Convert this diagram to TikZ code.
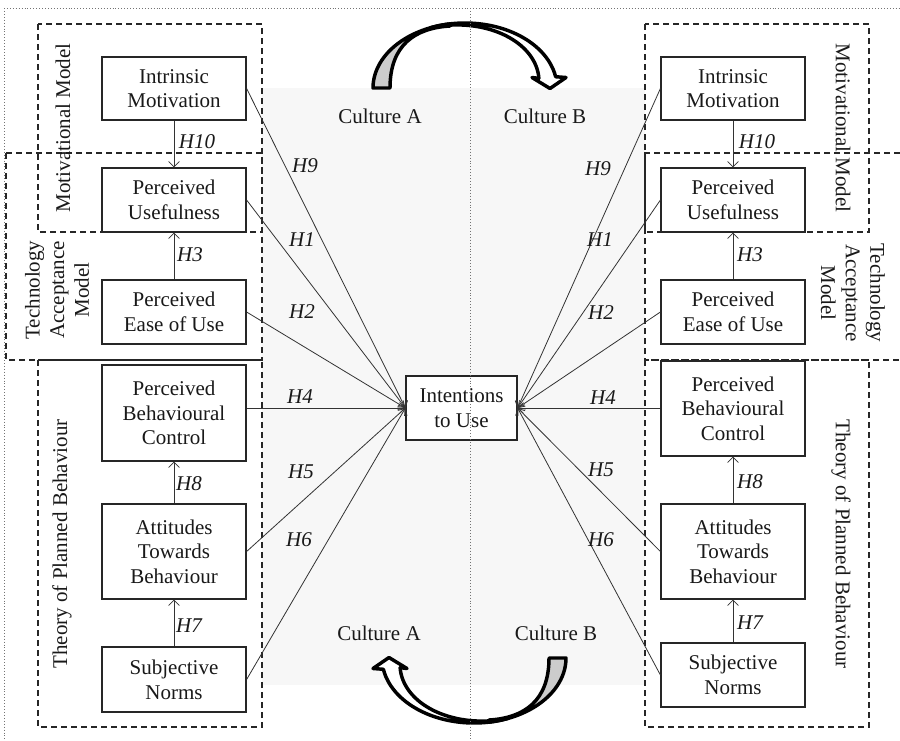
\documentclass[tikz,border=0pt]{standalone}
\usepackage{fontspec}
\setmainfont{Liberation Serif}
\usetikzlibrary{arrows.meta}
\newcommand{\cultarrow}{%
  \filldraw[carrow, fill=black!20]
    plot[domain=180:99, samples=50] ({465+92*cos(\x)},{88-65*sin(\x)})
    -- (450,26) .. controls (415,28) and (390,45) .. (390,88) -- cycle;
  \filldraw[carrow, fill=white]
    plot[domain=112:10, samples=60] ({465+92*cos(\x)},{88-65*sin(\x)})
    -- (566,77.5) -- (550,88.5) -- (532,77.5) -- (539,78.4)
    -- plot[domain=10:112, samples=60] ({465+(75+17*(\x-10)/102)*cos(\x)},{88-(55+10*(\x-10)/102)*sin(\x)})
    -- cycle;
}
\begin{document}
\begin{tikzpicture}[x=0.75pt,y=-0.75pt,
  every node/.style={font=\fontsize{15.75pt}{18.5pt}\selectfont, text=black!90},
  box/.style={draw=black!85, line width=0.9pt, minimum width=108pt, align=center, inner sep=0pt, fill=white},
  frame/.style={draw=black!85, line width=0.9pt, dash pattern=on 4.5pt off 3pt},
  dotln/.style={draw=black!55, line width=0.7pt, dash pattern=on 0.7pt off 1.5pt},
  conn/.style={draw=black!80, line width=0.6pt, -{Straight Barb[length=4pt,width=8pt]}},
  hyp/.style={font=\fontsize{15.75pt}{18.5pt}\selectfont\itshape},
  grp/.style={align=center},
  carrow/.style={line width=2.6pt, line join=round, draw=black}
]
\useasboundingbox (0,0) rectangle (900,740);
\fill[black!3] (262,88) rectangle (645,685);

% dashed frames
\draw[frame] (38,24) rectangle (262,232);
\draw[frame] (6,153) rectangle (262,360);
\draw[frame] (38,360) rectangle (262,727);
\draw[frame] (645,24) rectangle (869,232);
\draw[frame] (900,153) -- (645,153) -- (645,360) -- (900,360);
\draw[frame] (645,360) rectangle (869,727);

% group labels
\node[rotate=90, grp] (mmL) at (63,128) {Motivational Model};
\node[rotate=90, grp] (tamL) at (57,290) {Technology\\Acceptance\\Model};
\node[rotate=90, grp] (tpbL) at (62,544) {Theory of Planned Behaviour};
\node[rotate=-90, grp] (mmR) at (843,128) {Motivational Model};
\node[rotate=-90, grp] (tamR) at (853,293) {Technology\\Acceptance\\Model};
\node[rotate=-90, grp] (tpbR) at (841,544) {Theory of Planned Behaviour};

% boxes left
\node[box, minimum height=47.25pt] (imL) at (174,88.5) {Intrinsic\\Motivation};
\node[box, minimum height=48pt] (puL) at (174,200) {Perceived\\Usefulness};
\node[box, minimum height=48pt] (peL) at (174,312) {Perceived\\Ease of Use};
\node[box, minimum height=72pt] (pbL) at (174,413) {Perceived\\Behavioural\\Control};
\node[box, minimum height=71.25pt] (atL) at (174,551.5) {Attitudes\\Towards\\Behaviour};
\node[box, minimum height=48.75pt] (snL) at (174,679.5) {Subjective\\Norms};

% boxes right
\node[box, minimum height=47.25pt] (imR) at (733,88.5) {Intrinsic\\Motivation};
\node[box, minimum height=48pt] (puR) at (733,200) {Perceived\\Usefulness};
\node[box, minimum height=48pt] (peR) at (733,312) {Perceived\\Ease of Use};
\node[box, minimum height=71.25pt] (pbR) at (733,408.5) {Perceived\\Behavioural\\Control};
\node[box, minimum height=71.25pt] (atR) at (733,551.5) {Attitudes\\Towards\\Behaviour};
\node[box, minimum height=48pt] (snR) at (733,675) {Subjective\\Norms};

% centre
\node[box, minimum width=83.25pt, minimum height=48pt] (iu) at (461.5,408) {Intentions\\to Use};

% vertical connectors
\draw[conn] (imL.south) -- (puL.north);
\draw[conn] (peL.north) -- (puL.south);
\draw[conn] (atL.north) -- (pbL.south);
\draw[conn] (snL.north) -- (atL.south);
\draw[conn] (imR.south) -- (puR.north);
\draw[conn] (peR.north) -- (puR.south);
\draw[conn] (atR.north) -- (pbR.south);
\draw[conn] (snR.north) -- (atR.south);

% diagonal connectors
\draw[conn] (imL.east) -- (iu.west);
\draw[conn] (puL.east) -- (iu.west);
\draw[conn] (peL.east) -- (iu.west);
\draw[conn] (pbL.east |- iu.west) -- (iu.west);
\draw[conn] (atL.east) -- (iu.west);
\draw[conn] (snL.east) -- (iu.west);
\draw[conn] (imR.west) -- (iu.east);
\draw[conn] (puR.west) -- (iu.east);
\draw[conn] (peR.west) -- (iu.east);
\draw[conn] (pbR.west |- iu.east) -- (iu.east);
\draw[conn] (atR.west) -- (iu.east);
\draw[conn] (snR.west) -- (iu.east);

% hypothesis labels
\node[hyp] (h10L) at (197,142) {H10};
\node[hyp] (h3L) at (190,255) {H3};
\node[hyp] (h8L) at (189,484) {H8};
\node[hyp] (h7L) at (189,626) {H7};
\node[hyp] (h10R) at (757,142) {H10};
\node[hyp] (h3R) at (750,255) {H3};
\node[hyp] (h8R) at (750,482) {H8};
\node[hyp] (h7R) at (750,623) {H7};
\node[hyp] (h9L) at (305,166) {H9};
\node[hyp] (h1L) at (302,240) {H1};
\node[hyp] (h2L) at (302,312) {H2};
\node[hyp] (h4L) at (300,397) {H4};
\node[hyp] (h5L) at (301,472) {H5};
\node[hyp] (h6L) at (299,540) {H6};
\node[hyp] (h9R) at (598,169) {H9};
\node[hyp] (h1R) at (600,240) {H1};
\node[hyp] (h2R) at (601,313) {H2};
\node[hyp] (h4R) at (603,398) {H4};
\node[hyp] (h5R) at (601,470) {H5};
\node[hyp] (h6R) at (601,540) {H6};

% culture labels
\node (caT) at (380,116) {Culture A};
\node (cbT) at (545,116) {Culture B};
\node (caB) at (379,633) {Culture A};
\node (cbB) at (556,633) {Culture B};

% curved arrows
\cultarrow
\begin{scope}[rotate around={180:(469.5,373)}]
\cultarrow
\end{scope}

% dotted lines
\draw[dotln] (4,8) -- (900,8);
\draw[dotln] (4,8) -- (4,740);
\draw[dotln] (470,8) -- (470,740);
\end{tikzpicture}
\end{document}
